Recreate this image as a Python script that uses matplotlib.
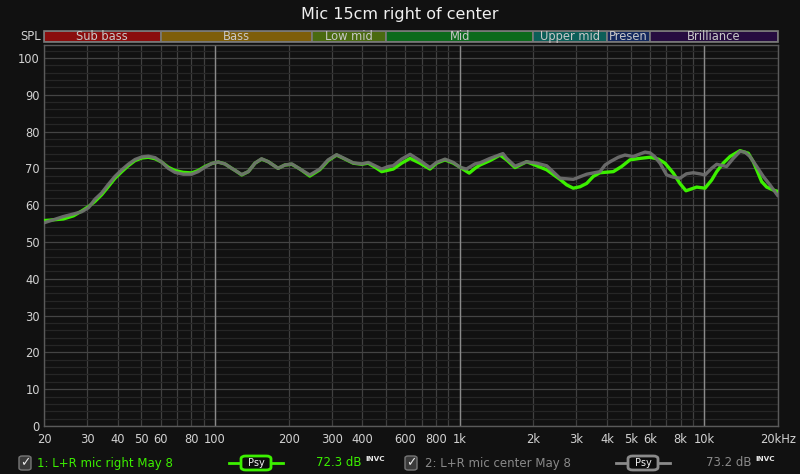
import matplotlib
matplotlib.use("Agg")
import matplotlib.pyplot as plt
from matplotlib.patches import FancyBboxPatch, Rectangle
from matplotlib.lines import Line2D
import numpy as np

# ---------------- data ----------------
title = "Mic 15cm right of center"

freq_right = [20, 21.8, 24.0, 26.4, 28.5, 30.4, 32.3, 34.4, 36.6, 39.0, 41.6, 44.2, 47.1, 50.2,
              53.4, 56.9, 60.5, 64.4, 68.6, 74.2, 80.3, 85.4, 91.0, 96.9, 103.1, 109.8, 117,
              121, 128.6, 136.8, 145.7, 155, 165, 181, 193, 206, 222.6, 244, 268, 290, 314,
              340, 367, 398, 423, 451, 480, 535, 579, 627, 688, 756, 805, 871, 942, 1003,
              1094, 1155, 1211, 1330, 1462, 1556, 1683, 1879, 2063, 2267, 2571, 2737, 2913,
              3105, 3304, 3516, 3745, 4247, 4592, 4966, 5457, 5995, 6481, 6904, 7466, 7943,
              8411, 9303, 10060, 10710, 11230, 11940, 12730, 13990, 15120, 15850, 16370,
              17140, 17980, 19140, 20000]
spl_right = [55.8, 56.0, 56.25, 57.1, 58.4, 59.6, 61.0, 62.8, 65.0, 67.3, 69.1, 70.7, 72.1,
             72.8, 73.0, 72.6, 71.7, 70.3, 69.4, 68.9, 68.75, 69.4, 70.5, 71.3, 71.7, 71.2,
             70.0, 69.4, 68.2, 69.1, 71.4, 72.5, 71.8, 70.0, 70.9, 71.1, 69.8, 67.9, 69.6,
             72.1, 73.6, 72.5, 71.4, 71.1, 71.4, 70.3, 69.1, 69.8, 71.4, 72.7, 71.4, 69.8,
             71.4, 72.3, 71.4, 70.3, 68.7, 70.0, 70.9, 72.1, 73.6, 72.3, 70.2, 71.8, 70.7,
             69.6, 67.0, 65.5, 64.6, 65.0, 65.9, 67.8, 68.8, 69.1, 70.5, 72.3, 72.7, 73.0,
             72.5, 71.4, 68.7, 65.9, 63.9, 64.9, 64.6, 66.8, 69.1, 71.4, 73.2, 74.8, 74.1,
             71.8, 69.6, 66.4, 64.9, 64.1, 63.7]

freq_center = [20, 21.8, 24.0, 26.4, 28.5, 30.4, 32.3, 34.4, 36.6, 39.0, 41.6, 44.2, 47.1,
               50.2, 53.4, 56.9, 60.5, 64.4, 68.6, 74.2, 80.3, 85.4, 91.0, 96.9, 103.1, 109.8,
               117, 121, 128.6, 136.8, 145.7, 155, 165, 181, 193, 206, 222.6, 244, 268, 290,
               314, 340, 367, 398, 423, 451, 480, 511, 535, 579, 627, 688, 756, 805, 871, 942,
               1003, 1065, 1155, 1211, 1330, 1502, 1556, 1683, 1879, 2063, 2267, 2571, 2913,
               3304, 3745, 3927, 4121, 4449, 4738, 5124, 5457, 5724, 5995, 6264, 6588, 7015,
               7466, 7943, 8440, 9008, 9595, 10060, 10710, 11230, 12330, 13130, 13990, 14650,
               15360, 16370, 17410, 18540, 20000]
spl_center = [55.2, 56.0, 56.9, 57.6, 58.2, 59.3, 61.6, 63.3, 65.6, 67.8, 69.6, 71.1, 72.4,
              73.1, 73.3, 72.9, 71.7, 70.0, 68.9, 68.4, 68.4, 69.1, 70.3, 71.3, 71.7, 71.2,
              70.0, 69.4, 68.3, 69.1, 71.4, 72.6, 71.8, 70.0, 70.9, 71.2, 69.8, 68.2, 69.8,
              72.3, 73.7, 72.6, 71.5, 71.2, 71.6, 70.7, 69.8, 70.5, 70.7, 72.5, 73.8, 72.1,
              70.2, 71.6, 72.5, 71.6, 70.3, 69.8, 71.2, 71.5, 72.7, 74.0, 72.7, 70.6, 71.8,
              71.4, 70.7, 67.3, 67.0, 68.4, 69.1, 70.9, 71.8, 73.0, 73.6, 73.2, 73.9, 74.4,
              74.2, 73.2, 71.4, 68.2, 67.6, 67.3, 68.5, 68.8, 68.5, 68.2, 70.0, 71.1, 70.5,
              72.7, 74.6, 74.4, 73.2, 70.5, 67.8, 65.5, 62.5]

band_names = ["Sub bass", "Bass", "Low mid", "Mid", "Upper mid", "Presen", "Brilliance"]
band_edges = [20, 60, 250, 500, 2000, 4000, 6000, 20000]
band_colors = ["#8a0d0d", "#7e5e0a", "#4a6a10", "#0c6a1c", "#0c5e58", "#13285e", "#260c40"]

xtick_vals = [20, 30, 40, 50, 60, 70, 80, 90, 100, 200, 300, 400, 500, 600, 700, 800, 900,
              1000, 2000, 3000, 4000, 5000, 6000, 7000, 8000, 9000, 10000, 20000]
xtick_labels = ["20", "30", "40", "50", "60", "", "80", "", "100", "200", "300", "400", "", "600",
                "", "800", "", "1k", "2k", "3k", "4k", "5k", "6k", "", "8k", "", "10k", "20kHz"]
decade_lines = [100, 1000, 10000]
ytick_vals = list(range(0, 101, 10))

legend1 = "1: L+R mic right May 8"
legend2 = "2: L+R mic center May 8"
level1 = "72.3 dB"
level2 = "73.2 dB"

# ---------------- style ----------------
BG = "#111111"
GREEN = "#3cf000"
GRAY = "#6e6e6e"
TXT = "#d2d2d2"

plt.rcParams['font.family'] = ['DejaVu Sans']

W, H = 800, 474
fig = plt.figure(figsize=(W / 100, H / 100), dpi=100, facecolor=BG)

def fx(px):
    return px / W

def fy(py):
    return 1 - py / H

ax = fig.add_axes([fx(44), fy(426), fx(778) - fx(44), fy(45) - fy(426)])
ax.set_facecolor(BG)
ax.set_xscale('log')
ax.set_xlim(20, 20000)
ax.set_ylim(0, 103.5)

ax.set_xticks(xtick_vals)
ax.set_xticklabels(xtick_labels)
ax.xaxis.set_minor_locator(matplotlib.ticker.NullLocator())
ax.set_yticks(ytick_vals)
ax.set_yticks(list(range(0, 104, 2)), minor=True)
ax.tick_params(axis='both', which='both', length=0, colors=TXT, labelsize=8.3)
ax.tick_params(axis='x', pad=5)
ax.tick_params(axis='y', pad=3)
ax.grid(True, axis='y', which='minor', color="#262626", lw=0.9)
ax.grid(True, axis='y', which='major', color="#444444", lw=0.9)
ax.grid(True, axis='x', which='major', color="#404040", lw=0.9)
for f in decade_lines:
    ax.axvline(f, color="#8a8a8a", lw=1.0, zorder=1.5)
for s in ax.spines.values():
    s.set_color("#5a5a5a")
    s.set_linewidth(1.0)
ax.set_axisbelow(True)

ax.plot(freq_right, spl_right, color=GREEN, lw=2.4, solid_joinstyle='round',
        solid_capstyle='round', zorder=3)
ax.plot(freq_center, spl_center, color=GRAY, lw=2.4, solid_joinstyle='round',
        solid_capstyle='round', zorder=4, alpha=0.95)

# band bar
bax = fig.add_axes([fx(44), fy(42), fx(778) - fx(44), fy(31) - fy(42)])
bax.set_xscale('log')
bax.set_xlim(20, 20000)
bax.set_ylim(0, 1)
bax.axis('off')
for i, name in enumerate(band_names):
    lo, hi = band_edges[i], band_edges[i + 1]
    bax.axvspan(lo, hi, color=band_colors[i], ec="#7a7a7a", lw=1.2)
    bax.text(np.sqrt(lo * hi), 0.5, name, ha='center', va='center', color="#c8c8c8",
             fontsize=8.3)
bax.add_patch(Rectangle((0, 0), 1, 1, transform=bax.transAxes, fill=False,
                        ec="#7a7a7a", lw=1.2, clip_on=False))

# title and SPL
fig.text(fx(400), fy(14), title, ha='center', va='center', color="#f0f0f0", fontsize=11.5)
fig.text(fx(41), fy(36.5), "SPL", ha='right', va='center', color=TXT, fontsize=8.3)

# legend row
def checkbox(x0):
    fig.patches.append(FancyBboxPatch((fx(x0), fy(470)), fx(12), fy(456) - fy(470),
                                      boxstyle="round,pad=0,rounding_size=0.004",
                                      transform=fig.transFigure, fc="#3a3a3a",
                                      ec="#777777", lw=1.0))
    fig.text(fx(x0 + 6), fy(463), "\u2713", ha='center', va='center', color="#e8e8e8",
             fontsize=9, fontweight='bold')

def psy(xc, col, txtcol):
    fig.lines.append(Line2D([fx(xc - 27), fx(xc + 27)], [fy(463), fy(463)],
                            transform=fig.transFigure, color=col, lw=2.0))
    fig.patches.append(FancyBboxPatch((fx(xc - 15), fy(470)), fx(30), fy(456) - fy(470),
                                      boxstyle="round,pad=0,rounding_size=0.006",
                                      transform=fig.transFigure, fc="#0c0c0c",
                                      ec=col, lw=2.0, zorder=3))
    fig.text(fx(xc), fy(463), "Psy", ha='center', va='center', color=txtcol,
             fontsize=7, zorder=4)

checkbox(19)
fig.text(fx(37), fy(463), legend1, ha='left', va='center', color=GREEN, fontsize=8.5)
psy(256, GREEN, "#f0f0f0")
fig.text(fx(362), fy(463), level1, ha='right', va='center', color=GREEN, fontsize=8.5)
fig.text(fx(365), fy(459), "INVC", ha='left', va='center', color="#e8e8e8", fontsize=5.2,
         fontweight='bold')

checkbox(405)
fig.text(fx(425), fy(463), legend2, ha='left', va='center', color="#8a8a8a", fontsize=8.5)
psy(643, "#8a8a8a", "#f0f0f0")
fig.text(fx(752), fy(463), level2, ha='right', va='center', color="#8a8a8a", fontsize=8.5)
fig.text(fx(755), fy(459), "INVC", ha='left', va='center', color="#e8e8e8", fontsize=5.2,
         fontweight='bold')

fig.savefig("out.png", dpi=100, facecolor=BG)
